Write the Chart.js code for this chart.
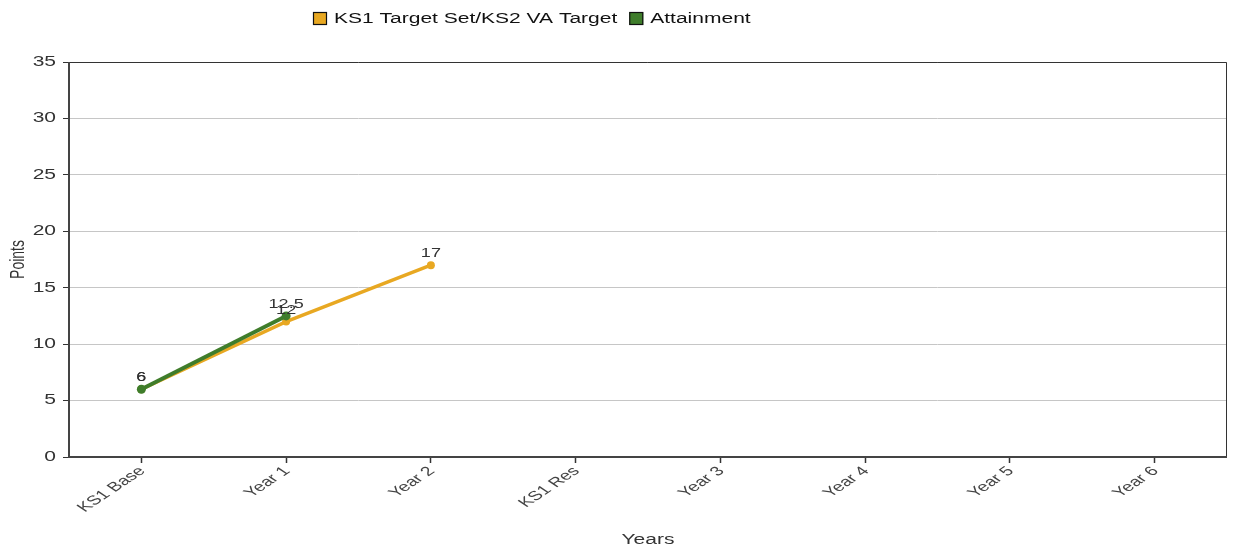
<!DOCTYPE html>
<html>
<head>
<meta charset="utf-8">
<script src="https://cdn.jsdelivr.net/npm/chart.js@4.4.1/dist/chart.umd.min.js"></script>
<style>
html,body{margin:0;padding:0;background:#fff;}
#wrap{width:1234px;height:549px;position:relative;}
</style>
</head>
<body>
<div id="wrap"><canvas id="c" width="1234" height="549"></canvas></div>
<script>
const categories = ["KS1 Base","Year 1","Year 2","KS1 Res","Year 3","Year 4","Year 5","Year 6"];
const targetValues = [6, 12, 17, null, null, null, null, null];
const attainmentValues = [6, 12.5, null, null, null, null, null, null];
const yTicks = [0, 5, 10, 15, 20, 25, 30, 35];
const seriesNames = ["KS1 Target Set/KS2 VA Target", "Attainment"];
const seriesColors = ["#E8A822", "#3F7D2B"];
const xTitle = "Years";
const yTitle = "Points";

const FONT = "'Liberation Sans', Arial, sans-serif";
const SX = 1.5; // horizontal stretch of text seen in the reference

function sText(ctx, text, x, y, font, color, align, baseline, rot) {
  ctx.save();
  ctx.font = font;
  ctx.fillStyle = color;
  ctx.textAlign = align;
  ctx.textBaseline = baseline;
  ctx.translate(x, y);
  ctx.scale(SX, 1);
  if (rot) ctx.rotate(rot);
  ctx.fillText(text, 0, 0);
  ctx.restore();
}

const framePlugin = {
  id: 'frame',
  beforeDatasetsDraw(chart) {
    const {ctx, chartArea: a} = chart;
    ctx.save();
    ctx.strokeStyle = '#333';
    ctx.lineWidth = 1;
    ctx.beginPath();
    ctx.moveTo(Math.round(a.left), Math.round(a.top) + 0.5);
    ctx.lineTo(Math.round(a.right) - 0.5, Math.round(a.top) + 0.5);
    ctx.lineTo(Math.round(a.right) - 0.5, Math.round(a.bottom));
    ctx.stroke();
    ctx.strokeStyle = '#444';
    ctx.lineWidth = 2;
    ctx.beginPath();
    ctx.moveTo(Math.round(a.left), Math.round(a.top));
    ctx.lineTo(Math.round(a.left), Math.round(a.bottom));
    ctx.lineTo(Math.round(a.right), Math.round(a.bottom));
    ctx.stroke();
    ctx.restore();
  },
  afterDatasetsDraw(chart) {
    const {ctx} = chart;
    chart.data.datasets.forEach((ds, i) => {
      const meta = chart.getDatasetMeta(i);
      meta.data.forEach((pt, j) => {
        const v = ds.data[j];
        if (v === null || v === undefined) return;
        sText(ctx, String(v), pt.x, pt.y - 8, "12px " + FONT, '#333', 'center', 'alphabetic');
      });
    });
  },
  afterDraw(chart) {
    const {ctx, chartArea: a} = chart;
    // legend
    ctx.save();
    ctx.font = "14px " + FONT;
    let x = 313;
    const y = 18;
    chart.data.datasets.slice().sort((p, q) => p.legendIndex - q.legendIndex).forEach(ds => {
      ctx.fillStyle = ds.borderColor;
      ctx.fillRect(x, y - 6, 14, 13);
      ctx.strokeStyle = '#111';
      ctx.lineWidth = 1.2;
      ctx.strokeRect(x + 0.5, y - 5.5, 13, 12);
      sText(ctx, ds.label, x + 21, y + 1, "14px " + FONT, '#111', 'left', 'middle');
      x += 21 + ctx.measureText(ds.label).width * SX + 12;
    });
    ctx.restore();
    // y tick labels
    const ys = chart.scales.y;
    ys.ticks.forEach((t, i) => {
      const py = ys.getPixelForTick(i);
      sText(ctx, String(t.value), a.left - 13, py, "14px " + FONT, '#333', 'right', 'middle');
    });
    // x tick labels
    const xs = chart.scales.x;
    xs.ticks.forEach((t, i) => {
      const px = xs.getPixelForTick(i);
      sText(ctx, categories[i], px + 1, a.bottom + 12, "13px " + FONT, '#444', 'right', 'middle', -Math.PI / 4);
    });
    // axis titles
    sText(ctx, xTitle, (a.left + a.right) / 2, 540, "14px " + FONT, '#333', 'center', 'middle');
    sText(ctx, yTitle, 18, (a.top + a.bottom) / 2, "14px " + FONT, '#333', 'center', 'middle', -Math.PI / 2);
  }
};

new Chart(document.getElementById('c'), {
  type: 'line',
  data: {
    labels: categories,
    datasets: [
      {label: seriesNames[0], legendIndex: 0, order: 1, data: targetValues, borderColor: seriesColors[0], backgroundColor: seriesColors[0], borderWidth: 3.5, pointRadius: 4, pointBackgroundColor: seriesColors[0], pointBorderWidth: 0, spanGaps: false, tension: 0},
      {label: seriesNames[1], legendIndex: 1, order: 0, data: attainmentValues, borderColor: seriesColors[1], backgroundColor: seriesColors[1], borderWidth: 4, pointRadius: 4.5, pointBackgroundColor: seriesColors[1], pointBorderWidth: 0, spanGaps: false, tension: 0}
    ]
  },
  options: {
    responsive: false,
    animation: false,
    devicePixelRatio: 1,
    layout: {padding: {top: 62, right: 7, left: 0, bottom: 0}},
    plugins: {legend: {display: false}, tooltip: {enabled: false}, title: {display: false}},
    scales: {
      x: {
        offset: true,
        grid: {drawOnChartArea: false, drawTicks: true, tickLength: 6, tickColor: '#333', color: '#333', tickWidth: 1.5},
        border: {display: false},
        ticks: {display: false, autoSkip: false},
        title: {display: false},
        afterFit(s) { s.height = 92; }
      },
      y: {
        min: 0, max: 35,
        afterBuildTicks(s) { s.ticks = yTicks.map(v => ({value: v})); },
        grid: {color: '#c6c6c6', drawTicks: true, tickLength: 6, tickColor: '#333'},
        border: {display: false},
        ticks: {display: false},
        title: {display: false},
        afterFit(s) { s.width = 69; }
      }
    }
  },
  plugins: [framePlugin]
});
</script>
</body>
</html>
